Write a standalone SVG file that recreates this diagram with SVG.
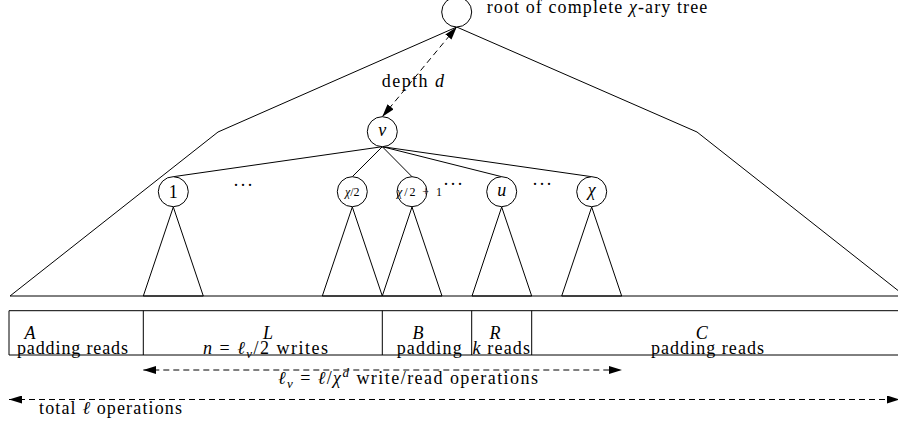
<svg xmlns="http://www.w3.org/2000/svg" width="898" height="425" viewBox="0 0 898 425">
<defs>
<marker id="ah" viewBox="0 0 13 8" refX="13" refY="4" markerWidth="13" markerHeight="8" markerUnits="userSpaceOnUse" orient="auto-start-reverse"><path d="M0,0 L13,4 L0,8 z" fill="#000"/></marker>
</defs>
<style>
.ln{fill:none;stroke:#000;stroke-width:1}
.tri{fill:none;stroke:#000;stroke-width:1;stroke-linejoin:miter}
.nd{fill:#fff;stroke:#000;stroke-width:1}
.dash{fill:none;stroke:#000;stroke-width:1;stroke-dasharray:6 4}
text{font-family:"Liberation Serif","Times New Roman",serif;font-size:18px;fill:#000}
.it{font-style:italic}
.sm{font-size:12px}
.m{text-anchor:middle}
</style>
<rect width="898" height="425" fill="#fff"/>

<g id="outline">
<polyline class="ln" points="10,296 218,132 456.7,27 697,132 905,296"/>
<line class="ln" x1="10" y1="296" x2="898" y2="296"/>
</g>

<g id="subtrees">
<polygon class="tri" points="173.3,207 143.3,296 203.3,296"/>
<polygon class="tri" points="352.3,207 322.3,296 382.3,296"/>
<polygon class="tri" points="412,207 382.3,296 442,296"/>
<polygon class="tri" points="501.7,207 472,296 531.7,296"/>
<polygon class="tri" points="591.7,207 561.7,296 621.7,296"/>
</g>

<g id="connectors">
<line class="ln" x1="382.3" y1="146.7" x2="173.3" y2="176.7"/>
<line class="ln" x1="382.3" y1="146.7" x2="352.3" y2="176.7"/>
<line class="ln" x1="382.3" y1="146.7" x2="412" y2="176.7"/>
<line class="ln" x1="382.3" y1="146.7" x2="501.7" y2="176.7"/>
<line class="ln" x1="382.3" y1="146.7" x2="591.7" y2="176.7"/>
<line class="dash" x1="382.3" y1="116.7" x2="456.7" y2="27" marker-start="url(#ah)" marker-end="url(#ah)"/>
<line class="dash" x1="143.3" y1="370" x2="622" y2="370" marker-start="url(#ah)" marker-end="url(#ah)"/>
<line class="dash" x1="9" y1="399.5" x2="900" y2="399.5" marker-start="url(#ah)" marker-end="url(#ah)"/>
</g>

<g id="root">
<circle class="nd" cx="456.7" cy="12" r="15"/>
<text x="486.7" y="12.5" textLength="220.6" lengthAdjust="spacing">root of complete <tspan class="it">χ</tspan>-ary tree</text>
</g>
<text x="381.7" y="86.5" textLength="62.3" lengthAdjust="spacing">depth <tspan class="it">d</tspan></text>

<g id="v">
<circle class="nd" cx="382.3" cy="131.7" r="15"/>
<text class="it m" x="382.3" y="136">v</text>
</g>
<g id="c1">
<circle class="nd" cx="173.3" cy="191.7" r="15"/>
<text class="m" x="173.3" y="197.5">1</text>
</g>
<g id="chalf">
<circle class="nd" cx="352.3" cy="191.7" r="15"/>
<text class="m sm" x="352.3" y="196"><tspan class="it">χ</tspan>/2</text>
</g>
<g id="chalf1">
<circle class="nd" cx="412" cy="191.7" r="15"/>
<text class="sm" x="397" y="196" textLength="45" lengthAdjust="spacing"><tspan class="it">χ</tspan>/2 + 1</text>
</g>
<g id="cu">
<circle class="nd" cx="501.7" cy="191.7" r="15"/>
<text class="it m" x="501.7" y="196">u</text>
</g>
<g id="cchi">
<circle class="nd" cx="591.7" cy="191.7" r="15"/>
<text class="it m" x="591.7" y="196">χ</text>
</g>
<g id="dots">
<text class="m" x="243" y="191" textLength="20" lengthAdjust="spacing">· · ·</text>
<text class="m" x="453" y="190" textLength="20" lengthAdjust="spacing">· · ·</text>
<text class="m" x="542" y="190" textLength="20" lengthAdjust="spacing">· · ·</text>
</g>

<g id="ops">
<line class="ln" x1="9" y1="310.7" x2="898" y2="310.7"/>
<line class="ln" x1="9" y1="355" x2="898" y2="355"/>
<line class="ln" x1="9" y1="310.7" x2="9" y2="355"/>
<line class="ln" x1="143.3" y1="310.7" x2="143.3" y2="355"/>
<line class="ln" x1="382.3" y1="310.7" x2="382.3" y2="355"/>
<line class="ln" x1="471.7" y1="310.7" x2="471.7" y2="355"/>
<line class="ln" x1="531.7" y1="310.7" x2="531.7" y2="355"/>
</g>
<g id="boxA">
<text class="it m" x="30" y="339">A</text>
<text x="17" y="354" textLength="111" lengthAdjust="spacing">padding reads</text>
</g>
<g id="boxL">
<text class="it m" x="268" y="339">L</text>
<text x="203" y="354" textLength="125" lengthAdjust="spacing"><tspan class="it">n</tspan> = <tspan class="it">ℓ</tspan><tspan class="it" font-size="13" dy="4">v</tspan><tspan dy="-4">/2 writes</tspan></text>
</g>
<g id="boxB">
<text class="it m" x="418" y="339">B</text>
<text x="396.7" y="354" textLength="65" lengthAdjust="spacing">padding</text>
</g>
<g id="boxR">
<text class="it m" x="495" y="339">R</text>
<text x="472.5" y="354" textLength="57.5" lengthAdjust="spacing"><tspan class="it">k</tspan> reads</text>
</g>
<g id="boxC">
<text class="it m" x="701.7" y="339">C</text>
<text x="651" y="354" textLength="113" lengthAdjust="spacing">padding reads</text>
</g>
<text x="278" y="384" textLength="260" lengthAdjust="spacing"><tspan class="it">ℓ</tspan><tspan class="it" font-size="13" dy="4">v</tspan><tspan dy="-4"> = </tspan><tspan class="it">ℓ</tspan>/<tspan class="it">χ</tspan><tspan class="it" font-size="13" dy="-7">d</tspan><tspan dy="7"> write/read operations</tspan></text>
<text x="39" y="414" textLength="143" lengthAdjust="spacing">total <tspan class="it">ℓ</tspan> operations</text>
</svg>
